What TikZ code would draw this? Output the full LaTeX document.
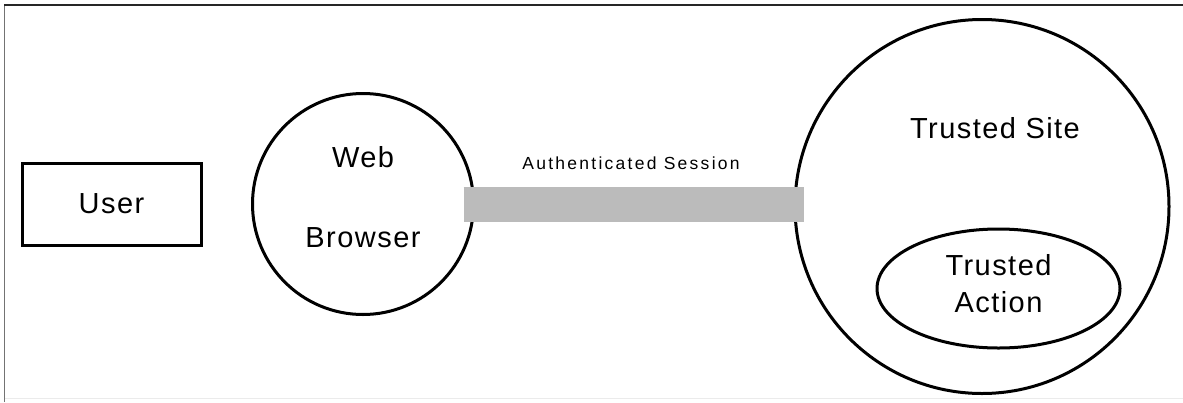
\documentclass[tikz,border=0pt]{standalone}
\usepackage{fontspec}
\setmainfont{Liberation Sans}
\newfontfamily\bigfont{Liberation Sans}[LetterSpace=5]
\newfontfamily\smallfont{Liberation Sans}[LetterSpace=13]
\usetikzlibrary{shapes.geometric}
\definecolor{bargray}{HTML}{BBBBBB}
\begin{document}
\begin{tikzpicture}[x=1pt,y=-1pt,
  shapeline/.style={draw=black,line width=3pt,inner sep=0pt},
  bigtxt/.style={font=\bigfont\fontsize{29}{37}\selectfont,inner sep=0pt,align=center},
  smalltxt/.style={font=\smallfont\fontsize{17.5}{20}\selectfont,inner sep=0pt},
  session/.style={draw=bargray,line width=35pt}]
\useasboundingbox (0,0) rectangle (1183,402);
\fill[white] (0,0) rectangle (1183,402);
% frame
\draw[color=black!55,line width=1.5pt] (4.5,402) -- (4.5,5);
\draw[color=black!85,line width=1.5pt] (4,5) -- (1183,5);
\draw[color=black!8,line width=1pt] (5,398) -- (1183,398);
% user
\node[shapeline,rectangle,minimum width=179pt,minimum height=82pt] (user) at (111.5,204) {};
\node[bigtxt] (usertxt) at (user.center) {User};
% web browser
\node[shapeline,circle,minimum size=221pt] (browser) at (363,204) {};
\node[bigtxt] (webtxt) at ([yshift=47pt]browser.center) {Web};
\node[bigtxt] (browsertxt) at ([yshift=-34pt]browser.center) {Browser};
% trusted site
\node[shapeline,circle,minimum size=374pt] (site) at (982,206.5) {};
\node[bigtxt] (sitetxt) at (995,128) {Trusted Site};
\node[shapeline,ellipse,minimum width=243pt,minimum height=119pt] (action) at (998.5,288.5) {};
\node[bigtxt] (actiontxt) at ([yshift=5pt]action.center) {Trusted\\Action};
% session
\draw[session] ([xshift=-11.5pt]browser.east) -- ([xshift=10pt]site.west |- browser.east);
\node[smalltxt] (sessiontxt) at (631,163) {Authenticated Session};
\end{tikzpicture}
\end{document}
